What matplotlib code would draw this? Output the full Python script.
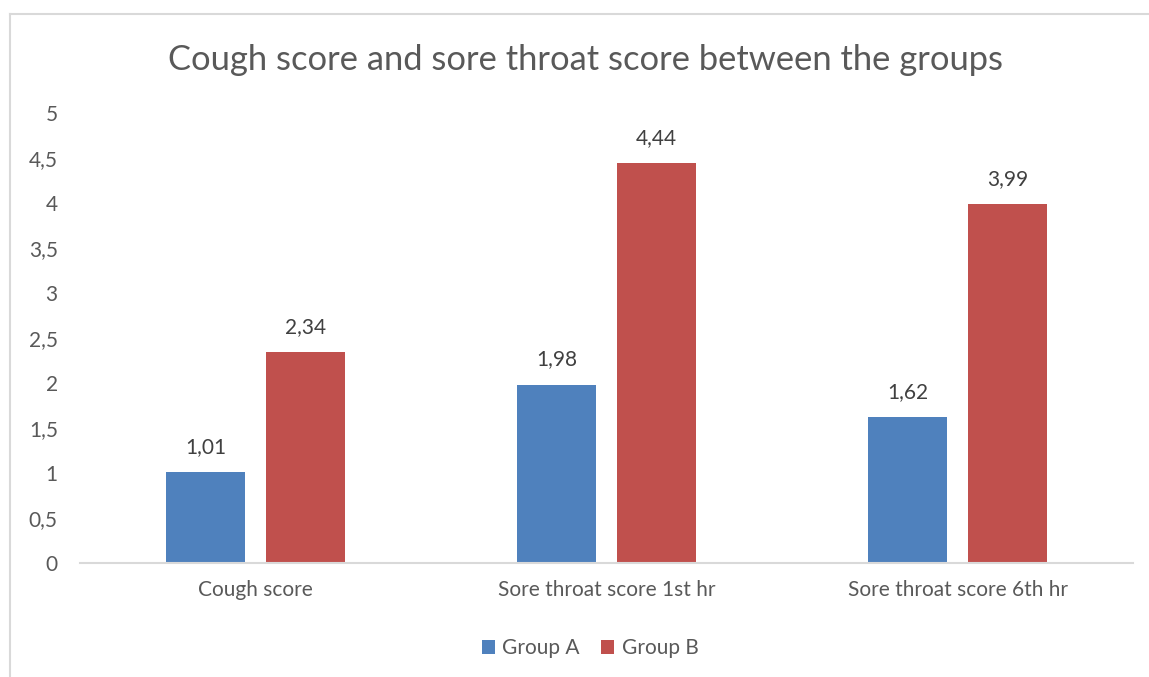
import matplotlib
matplotlib.use("Agg")
import matplotlib.pyplot as plt
from matplotlib.lines import Line2D
from matplotlib.patches import Patch
from matplotlib.ticker import FuncFormatter, MultipleLocator
import numpy as np

categories = ["Cough score", "Sore throat score 1st hr", "Sore throat score 6th hr"]
group_a = [1.01, 1.98, 1.62]
group_b = [2.34, 4.44, 3.99]
series_names = ["Group A", "Group B"]
colors = ["#4F81BD", "#C0504D"]

plt.rcParams['font.family'] = ['Lato', 'DejaVu Sans']
text_color = "#595959"

W, H = 1149, 677
fig = plt.figure(figsize=(W/100, H/100), dpi=100)
ax = fig.add_axes([80/W, (H-563)/H, (1133-80)/W, (563-113)/H])

x = np.arange(len(categories))
bw = 0.225
off = 0.1425
b1 = ax.bar(x - off, group_a, bw, color=colors[0], label=series_names[0])
b2 = ax.bar(x + off, group_b, bw, color=colors[1], label=series_names[1])

def fmt(v):
    return f"{v:.2f}".replace('.', ',')

for bars, vals in ((b1, group_a), (b2, group_b)):
    ax.bar_label(bars, labels=[fmt(v) for v in vals], padding=11,
                 fontsize=15, color="#404040")

ax.set_xlim(-0.5, 2.5)
ax.set_ylim(0, 5)
ax.yaxis.set_major_locator(MultipleLocator(0.5))
ax.yaxis.set_major_formatter(FuncFormatter(lambda v, p: (f"{v:g}").replace('.', ',')))
ax.set_xticks(x)
ax.set_xticklabels(categories)
ax.tick_params(axis='both', length=0, labelsize=15, labelcolor=text_color)
ax.tick_params(axis='y', pad=16)
ax.tick_params(axis='x', pad=12)
for s in ("top", "right", "left"):
    ax.spines[s].set_visible(False)
ax.spines["bottom"].set_color("#d9d9d9")
ax.spines["bottom"].set_linewidth(1.5)

fig.text(586/W, 1 - 60/H, "Cough score and sore throat score between the groups",
         ha="center", va="center", fontsize=24.8, color=text_color)

handles = [Patch(facecolor=c, edgecolor='none') for c in colors]
fig.legend(handles, series_names, loc="center", bbox_to_anchor=(590/W, 1 - 648/H),
           ncol=2, frameon=False, fontsize=15, labelcolor=text_color,
           handlelength=0.65, handleheight=0.65, handletextpad=0.35, columnspacing=1.0)

# outer chart border (only top and left visible in the crop)
fig.add_artist(Line2D([10/W, 10/W], [0, 1 - 14/H], transform=fig.transFigure,
                      color="#d9d9d9", linewidth=1.5))
fig.add_artist(Line2D([10/W, 1], [1 - 14/H, 1 - 14/H], transform=fig.transFigure,
                      color="#d9d9d9", linewidth=1.5))

fig.savefig("out.png", dpi=100, facecolor="white")
